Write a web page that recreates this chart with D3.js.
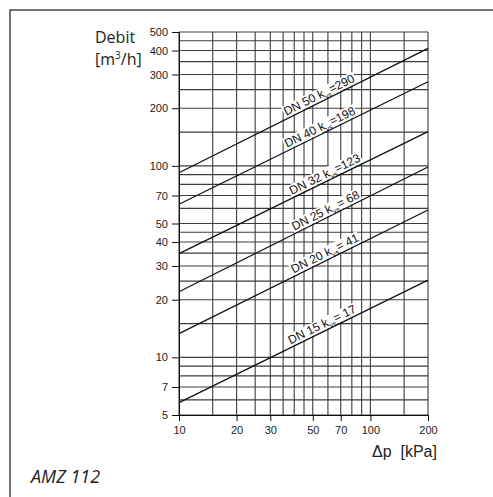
<!DOCTYPE html>
<html>
<head>
<meta charset="utf-8">
<script src="https://cdn.jsdelivr.net/npm/d3@7"></script>
<style>
  body { margin: 0; background: #fff; }
  svg { display: block; }
</style>
</head>
<body>
<div id="chart"></div>
<script>
// grid values (kPa / m3/h)
const xGrid = [10, 15, 20, 25, 30, 35, 40, 45, 50, 60, 70, 80, 90, 100, 150, 200];
const yGrid = [5, 6, 7, 8, 9, 10, 15, 20, 25, 30, 35, 40, 45, 50, 60, 70, 80, 90, 100,
               150, 200, 250, 300, 350, 400, 450, 500];
const xTicks = [10, 20, 30, 50, 70, 100, 200];
const yTicks = [500, 400, 300, 200, 100, 70, 50, 40, 30, 20, 10, 7, 5];

// valve lines, read at dp = 10 and dp = 200 kPa
const valves = ["DN 50", "DN 40", "DN 32", "DN 25", "DN 20", "DN 15"];
const kvsText = ["=290", "=198", "=123", "= 68", "= 41", "= 17"];
const flowAt10 = [92, 63, 34.8, 22, 13.3, 5.8];
const flowAt200 = [411, 275, 151, 98.6, 58.8, 25.3];
const labelDp = [56, 56.5, 60, 60.5, 60, 58];

const W = 493, H = 497;

let svg = d3.select("#chart")
    .append("svg")
    .attr("width", W)
    .attr("height", H);

// frame (only top and left edges visible)
svg.append("path")
    .attr("d", `M10,${H} L10,10 L${W},10`)
    .attr("fill", "none")
    .attr("stroke", "#444")
    .attr("stroke-width", 1.5);

let x = d3.scaleLog().domain([10, 200]).range([179, 428]);
let y = d3.scaleLog().domain([5, 500]).range([415, 32]);

let grid = svg.append("g").attr("id", "grid");

grid.selectAll("line.v")
    .data(xGrid)
    .enter()
    .append("line")
    .attr("class", "v")
    .attr("x1", d => x(d)).attr("x2", d => x(d))
    .attr("y1", y(5)).attr("y2", y(500))
    .attr("stroke", "#3c3c3c")
    .attr("stroke-width", 1.1);

grid.selectAll("line.h")
    .data(yGrid)
    .enter()
    .append("line")
    .attr("class", "h")
    .attr("y1", d => y(d)).attr("y2", d => y(d))
    .attr("x1", x(10)).attr("x2", x(200))
    .attr("stroke", "#3c3c3c")
    .attr("stroke-width", 1.1);

// axes
let yAxis = d3.axisLeft(y)
    .tickValues(yTicks)
    .tickFormat(d3.format("d"))
    .tickSize(7)
    .tickSizeOuter(0)
    .tickPadding(4);

let xAxis = d3.axisBottom(x)
    .tickValues(xTicks)
    .tickFormat(d3.format("d"))
    .tickSize(6)
    .tickSizeOuter(0)
    .tickPadding(5);

svg.append("g")
    .attr("id", "yAxis")
    .attr("transform", `translate(${x(10)},0)`)
    .call(yAxis);

svg.append("g")
    .attr("id", "xAxis")
    .attr("transform", `translate(0,${y(5)})`)
    .call(xAxis);

svg.selectAll("#yAxis, #xAxis").selectAll(".domain").attr("stroke", "#111");
svg.selectAll("#yAxis, #xAxis").selectAll(".tick line").attr("stroke", "#111");
svg.selectAll("#yAxis, #xAxis").selectAll("text")
    .attr("fill", "#222")
    .style("font-family", "'Liberation Sans', Arial, sans-serif")
    .style("font-size", "11px");

// valve lines
let lineData = valves.map((v, i) => ({
    name: v,
    kvs: kvsText[i],
    pts: [[10, flowAt10[i]], [200, flowAt200[i]]],
    labelAt: labelDp[i]
}));

let line = d3.line()
    .x(d => x(d[0]))
    .y(d => y(d[1]));

// labels sit just above their line, on a white patch that hides the grid
let labels = svg.append("g").attr("id", "labels");

lineData.forEach(d => {
    let x0 = x(d.pts[0][0]), y0 = y(d.pts[0][1]);
    let x1 = x(d.pts[1][0]), y1 = y(d.pts[1][1]);
    let angle = Math.atan2(y1 - y0, x1 - x0) * 180 / Math.PI;
    let t = (x(d.labelAt) - x0) / (x1 - x0);
    let cx = x0 + t * (x1 - x0), cy = y0 + t * (y1 - y0);

    let g = labels.append("g")
        .attr("transform", `translate(${cx},${cy}) rotate(${angle})`);

    let bg = g.append("rect").attr("fill", "#fff");

    let txt = g.append("text")
        .attr("text-anchor", "middle")
        .attr("y", -3)
        .attr("fill", "#111")
        .style("font-family", "'Liberation Sans', Arial, sans-serif")
        .style("font-size", "12px");
    txt.append("tspan").text(d.name + " k");
    txt.append("tspan").attr("dy", 3).style("font-size", "7px").text("vs");
    txt.append("tspan").attr("dy", -3).text(d.kvs);

    let bb = txt.node().getBBox();
    bg.attr("x", bb.x - 1).attr("y", bb.y + 1)
      .attr("width", bb.width + 2).attr("height", -1 - (bb.y + 1));
});

svg.append("g")
    .attr("id", "curves")
    .selectAll("path")
    .data(lineData)
    .enter()
    .append("path")
    .attr("d", d => line(d.pts))
    .attr("fill", "none")
    .attr("stroke", "#111")
    .attr("stroke-width", 1.3);

// axis titles
let titleFont = "'Open Sans', 'Noto Sans', sans-serif";

svg.append("text")
    .attr("x", 95).attr("y", 43)
    .style("font-family", titleFont)
    .style("font-size", "16px")
    .attr("fill", "#222")
    .text("Debit");

let unit = svg.append("text")
    .attr("x", 95).attr("y", 65)
    .style("font-family", titleFont)
    .style("font-size", "16px")
    .attr("fill", "#222");
unit.append("tspan").text("[m");
unit.append("tspan").attr("dy", -6).style("font-size", "10px").text("3");
unit.append("tspan").attr("dy", 6).text("/h]");

svg.append("text")
    .attr("x", 372).attr("y", 457)
    .style("font-family", "'Liberation Sans', Arial, sans-serif")
    .style("font-size", "16px")
    .attr("fill", "#222")
    .attr("xml:space", "preserve")
    .text("\u0394p  [kPa]");

svg.append("text")
    .attr("x", 31).attr("y", 483)
    .style("font-family", titleFont)
    .style("font-size", "18px")
    .style("font-style", "italic")
    .attr("fill", "#222")
    .text("AMZ 112");
</script>
</body>
</html>
